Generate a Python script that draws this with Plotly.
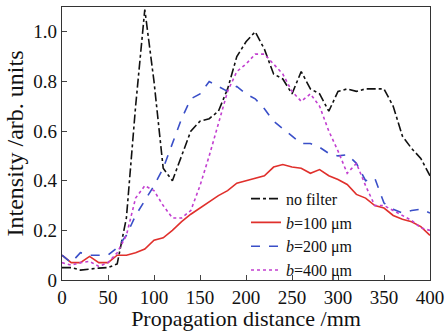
import plotly.graph_objects as go

distance = list(range(0, 401, 10))
no_filter = [0.05, 0.05, 0.04, 0.045, 0.048, 0.05, 0.065, 0.25, 0.70, 1.09, 0.80,
             0.45, 0.40, 0.50, 0.60, 0.64, 0.65, 0.68, 0.77, 0.90, 0.96, 1.00,
             0.93, 0.83, 0.81, 0.75, 0.84, 0.77, 0.75, 0.68, 0.76, 0.77, 0.76,
             0.77, 0.77, 0.77, 0.70, 0.58, 0.53, 0.49, 0.42]
b100 = [0.10, 0.07, 0.07, 0.095, 0.07, 0.07, 0.10, 0.10, 0.11, 0.125, 0.16,
        0.17, 0.20, 0.235, 0.265, 0.29, 0.315, 0.34, 0.36, 0.39, 0.40, 0.41,
        0.42, 0.455, 0.465, 0.455, 0.45, 0.43, 0.445, 0.42, 0.405, 0.385,
        0.345, 0.33, 0.30, 0.29, 0.26, 0.245, 0.235, 0.215, 0.18]
b200 = [0.10, 0.07, 0.11, 0.10, 0.10, 0.10, 0.13, 0.18, 0.26, 0.32, 0.38,
        0.45, 0.55, 0.65, 0.73, 0.75, 0.80, 0.78, 0.76, 0.78, 0.75, 0.73,
        0.69, 0.64, 0.61, 0.58, 0.55, 0.55, 0.535, 0.51, 0.50, 0.505, 0.47,
        0.40, 0.41, 0.31, 0.285, 0.27, 0.28, 0.285, 0.27]
b400 = [0.07, 0.06, 0.07, 0.075, 0.055, 0.07, 0.11, 0.18, 0.33, 0.38, 0.36,
        0.30, 0.25, 0.25, 0.28, 0.38, 0.50, 0.63, 0.76, 0.84, 0.87, 0.91,
        0.91, 0.87, 0.83, 0.76, 0.72, 0.75, 0.70, 0.60, 0.52, 0.43, 0.47,
        0.38, 0.30, 0.30, 0.28, 0.26, 0.24, 0.21, 0.20]

series_names = ["no filter", "<i>b</i>=100 μm", "<i>b</i>=200 μm", "<i>b</i>=400 μm"]
x_ticks = [0, 50, 100, 150, 200, 250, 300, 350, 400]
y_ticks = [0, 0.2, 0.4, 0.6, 0.8, 1.0]
y_tick_labels = ["0", "0.2", "0.4", "0.6", "0.8", "1.0"]

styles = [("#111111", "dashdot"), ("#e0302c", "solid"), ("#3a4fc8", "dash"), ("#c23fd0", "dot")]

fig = go.Figure()
for name, ys, (col, dash) in zip(series_names, [no_filter, b100, b200, b400], styles):
    fig.add_trace(go.Scatter(x=distance, y=ys, mode="lines", name=name,
                             line=dict(color=col, dash=dash, width=1.6)))

font_family = "Liberation Serif, DejaVu Serif, serif"
fig.update_layout(
    width=445, height=331,
    margin=dict(l=62, r=15, t=7, b=51),
    paper_bgcolor="white", plot_bgcolor="white",
    font=dict(family=font_family, color="#111111", size=19),
    showlegend=True,
    legend=dict(x=0.50, y=0.36, xanchor="left", yanchor="top",
                bgcolor="rgba(0,0,0,0)", font=dict(size=16, family=font_family),
                tracegroupgap=0, itemwidth=30),
    xaxis=dict(range=[0, 400], tickvals=x_ticks, ticks="inside", ticklen=5,
               showline=True, linecolor="#333333", linewidth=1.2, mirror=True,
               showgrid=False, zeroline=False, ticklabeloverflow="allow", automargin=False,
               title=dict(text="Propagation distance /mm", font=dict(size=22), standoff=0),
               tickfont=dict(size=19)),
    yaxis=dict(range=[0, 1.1], tickvals=y_ticks, ticktext=y_tick_labels, ticks="inside", ticklen=5,
               showline=True, linecolor="#333333", linewidth=1.2, mirror=True,
               showgrid=False, zeroline=False, automargin=False,
               title=dict(text="Intensity /arb. units", font=dict(size=24), standoff=2),
               tickfont=dict(size=19)),
)
fig.write_html("out.html", config={"displayModeBar": False},
               post_script="document.body.style.margin='0px';")
